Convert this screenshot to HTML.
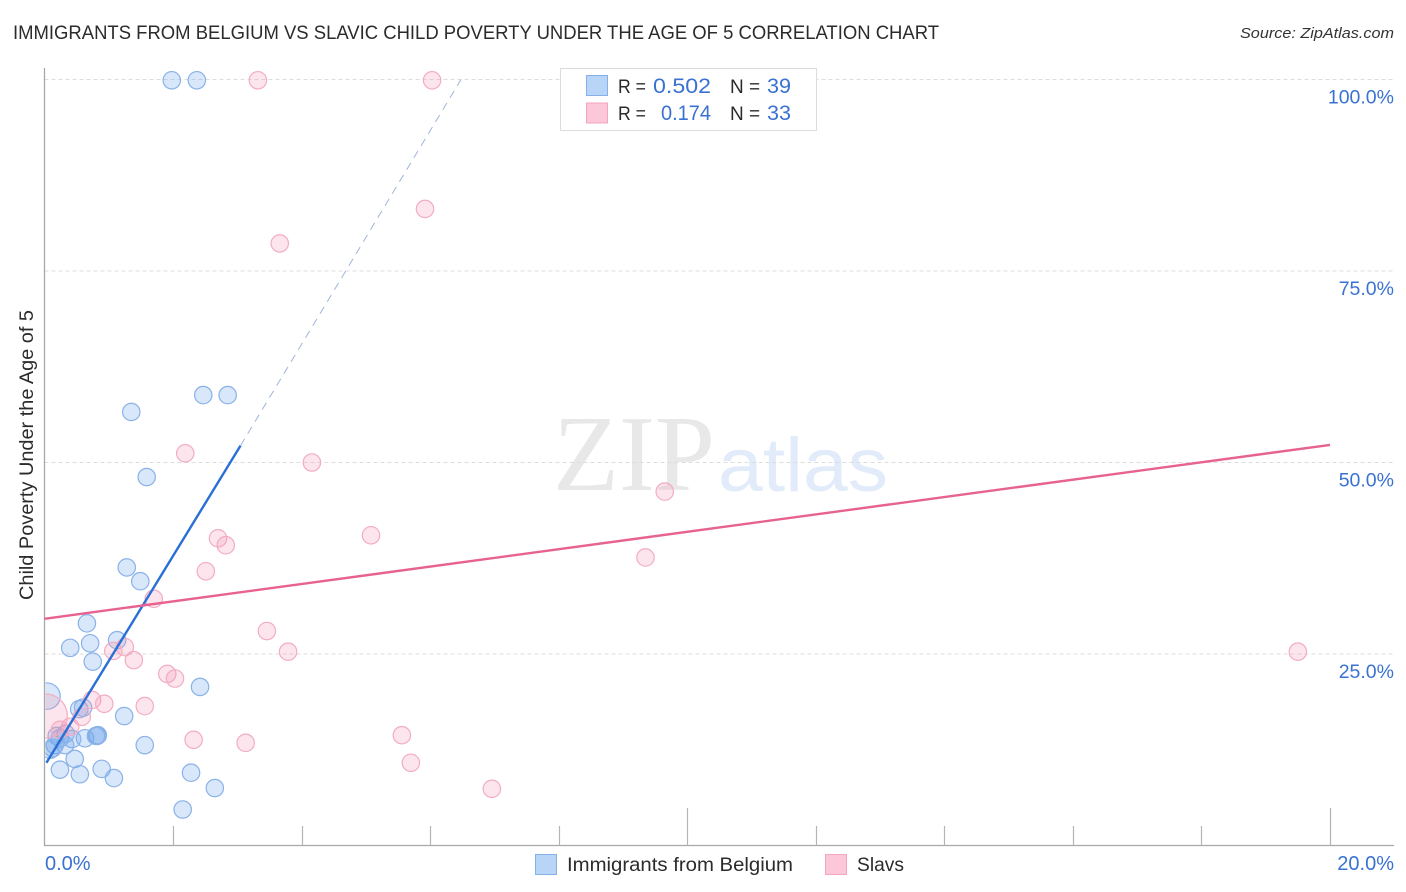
<!DOCTYPE html>
<html lang="en">
<head>
<meta charset="utf-8">
<title>Immigrants from Belgium vs Slavic Child Poverty Under the Age of 5 Correlation Chart</title>
<style>
html,body{margin:0;padding:0;background:#fff;width:1406px;height:892px;overflow:hidden}
svg{display:block}
text{font-family:"Liberation Sans",sans-serif}
</style>
</head>
<body>
<svg id="chart" xmlns="http://www.w3.org/2000/svg" width="1406" height="892" viewBox="0 0 1406 892">
  <defs>
    <clipPath id="plot-clip"><rect x="45.5" y="60" width="1349" height="785"/></clipPath>
  </defs>
  <text x="13" y="39" font-size="19" fill="#2b2b2b" textLength="926" lengthAdjust="spacingAndGlyphs">IMMIGRANTS FROM BELGIUM VS SLAVIC CHILD POVERTY UNDER THE AGE OF 5 CORRELATION CHART</text>
  <text x="1394" y="38" font-size="15" font-style="italic" fill="#333" text-anchor="end" textLength="154" lengthAdjust="spacingAndGlyphs">Source: ZipAtlas.com</text>

  <g>
    <text x="553" y="490" font-size="108" fill="#e8e8e8" style="font-family:'Liberation Serif',serif" textLength="162" lengthAdjust="spacingAndGlyphs">ZIP</text>
    <text x="718" y="491" font-size="76" fill="#e1ebfa" textLength="170" lengthAdjust="spacingAndGlyphs">atlas</text>
  </g>

  <g id="grid"></g>
  <g id="axes"></g>
  <g id="y-labels"></g>
  <g id="x-labels"></g>

  <text transform="translate(33 455) rotate(-90)" font-size="19" fill="#2b2b2b" text-anchor="middle" textLength="290" lengthAdjust="spacingAndGlyphs">Child Poverty Under the Age of 5</text>

  <g id="points" clip-path="url(#plot-clip)"></g>
  <g id="trends"></g>

  <g>
    <rect x="560.5" y="68.5" width="256" height="62" fill="#fff" stroke="#dcdcdc" stroke-width="1"/>
    <rect x="586.5" y="75.5" width="21" height="20" fill="#b8d4f6" stroke="#86b0e8"/>
    <rect x="586.5" y="103" width="21" height="20" fill="#fcc8d9" stroke="#f3a5bf"/>
    <text x="618" y="93" font-size="19" fill="#2b2b2b" textLength="28" lengthAdjust="spacingAndGlyphs">R =</text>
    <text x="653" y="93" font-size="21" fill="#3a72d2" textLength="58" lengthAdjust="spacingAndGlyphs">0.502</text>
    <text x="730" y="93" font-size="19" fill="#2b2b2b">N =</text>
    <text x="767" y="93" font-size="21" fill="#3a72d2" textLength="24" lengthAdjust="spacingAndGlyphs">39</text>
    <text x="618" y="120" font-size="19" fill="#2b2b2b" textLength="28" lengthAdjust="spacingAndGlyphs">R =</text>
    <text x="661" y="120" font-size="21" fill="#3a72d2" textLength="50" lengthAdjust="spacingAndGlyphs">0.174</text>
    <text x="730" y="120" font-size="19" fill="#2b2b2b">N =</text>
    <text x="767" y="120" font-size="21" fill="#3a72d2" textLength="24" lengthAdjust="spacingAndGlyphs">33</text>
  </g>

  <g>
    <rect x="535.5" y="854.5" width="21" height="20" fill="#b8d4f6" stroke="#86b0e8"/>
    <text x="567" y="871" font-size="19.5" fill="#2b2b2b" textLength="226" lengthAdjust="spacingAndGlyphs">Immigrants from Belgium</text>
    <rect x="825.5" y="854.5" width="21" height="20" fill="#fcc8d9" stroke="#f3a5bf"/>
    <text x="857" y="871" font-size="19.5" fill="#2b2b2b" textLength="47" lengthAdjust="spacingAndGlyphs">Slavs</text>
  </g>
</svg>

<script>
/* Chart data (percent values) */
const yTickValues = [25, 50, 75, 100];
const yTickLabels = ["25.0%", "50.0%", "75.0%", "100.0%"];
const xTickValues = [0, 2, 4, 6, 8, 10, 12, 14, 16, 18, 20];
const xMajorTickValues = [0, 10, 20];
const xEdgeLabels = ["0.0%", "20.0%"];
const xEdgeLabelValues = [0, 20];

const belgiumX = [1.98, 2.37, 1.35, 2.47, 2.85, 1.59, 1.28, 1.49, 0.66, 1.13, 0.71, 0.40, 0.75, 2.42, 0.04, 0.54, 0.60, 1.24, 1.56, 0.63, 0.43, 0.24, 0.33, 0.82, 0.83, 0.80, 0.32, 0.16, 0.13, 0.47, 0.24, 0.55, 0.89, 1.08, 2.28, 2.65, 2.15, 0.19, 0.09];
const belgiumY = [99.9, 99.9, 56.6, 58.8, 58.8, 48.1, 36.3, 34.5, 29.0, 26.8, 26.4, 25.8, 24.0, 20.7, 19.5, 17.8, 18.0, 16.9, 13.1, 14.0, 13.9, 14.0, 14.6, 14.3, 14.4, 14.3, 13.1, 13.1, 12.7, 11.3, 9.9, 9.3, 10.0, 8.8, 9.5, 7.5, 4.7, 14.3, 12.5];
const belgiumWeight = [1, 1, 1, 1, 1, 1, 1, 1, 1, 1, 1, 1, 1, 1, 2.3, 1, 1, 1, 1, 1, 1, 1, 1, 1, 1, 1, 1, 1, 1, 1, 1, 1, 1, 1, 1, 1, 1, 1, 1];

const slavsX = [3.32, 6.03, 5.92, 3.66, 2.19, 4.16, 5.08, 9.65, 9.35, 2.70, 2.82, 2.51, 1.70, 3.46, 3.79, 1.25, 1.07, 1.39, 1.91, 2.03, 19.5, 0.74, 0.93, 1.56, 0.58, 0.40, 2.32, 3.13, 5.56, 5.70, 6.96, 0.01, 0.24];
const slavsY = [99.9, 99.9, 83.1, 78.6, 51.2, 50.0, 40.5, 46.2, 37.6, 40.1, 39.2, 35.8, 32.2, 28.0, 25.3, 25.9, 25.4, 24.2, 22.4, 21.8, 25.3, 19.0, 18.5, 18.2, 16.8, 15.5, 13.8, 13.4, 14.4, 10.8, 7.4, 16.9, 15.1];
const slavsWeight = [1, 1, 1, 1, 1, 1, 1, 1, 1, 1, 1, 1, 1, 1, 1, 1, 1, 1, 1, 1, 1, 1, 1, 1, 1, 1, 1, 1, 1, 1, 1, 6.5, 1];

const belgiumTrendX = [0.03, 3.05, 6.48];
const belgiumTrendY = [10.8, 52.2, 100];
const slavsTrendX = [0, 20];
const slavsTrendY = [29.6, 52.3];

/* Axis functions */
const plotLeft = 44.5, plotRight = 1330, plotBottom = 845.5, pxPerY = 7.66, pointR = 8.7;
function xScale(v) { return plotLeft + (plotRight - plotLeft) * v / 20; }
function yScale(v) { return plotBottom - pxPerY * v; }

const NS = 'http://www.w3.org/2000/svg';
function make(tag, parentId, attrs) {
  const el = document.createElementNS(NS, tag);
  Object.keys(attrs).forEach(function (k) { el.setAttribute(k, attrs[k]); });
  document.getElementById(parentId).appendChild(el);
  return el;
}

/* Gridlines and y labels */
yTickValues.forEach(function (v, i) {
  const y = yScale(v);
  const line = make('line', 'grid', { x1: plotLeft, x2: 1394, y1: y, y2: y, stroke: '#dddddd', 'stroke-width': 1, 'stroke-dasharray': '4 3' });
  
  
  const label = make('text', 'y-labels', { x: 1394, y: y + 24, 'font-size': 19.5, fill: '#3a72d2', 'text-anchor': 'end' });
  
  
  label.textContent = yTickLabels[i];
});

/* Axes */
const yAxis = make('line', 'axes', { x1: 44.5, x2: 44.5, y1: 68, y2: 846, stroke: '#a8a8a8', 'stroke-width': 1.3 });


const xAxis = make('line', 'axes', { x1: 44, x2: 1394, y1: 845.5, y2: 845.5, stroke: '#a8a8a8', 'stroke-width': 1.3 });



xTickValues.forEach(function (v) {
  if (v === 0) return;
  const x = Math.round(xScale(v)) + 0.5;
  const top = xMajorTickValues.indexOf(v) >= 0 ? 808 : 826;
  const tick = make('line', 'axes', { x1: x, x2: x, y1: top, y2: 845.5, stroke: '#b4b4b4', 'stroke-width': 1.2 });
  
  
});

xEdgeLabels.forEach(function (t, i) {
  const v = xEdgeLabelValues[i];
  const label = make('text', 'x-labels', {
    x: v === 0 ? 45 : 1394,
    y: 870,
    'font-size': 20,
    fill: '#3a72d2',
    'text-anchor': v === 0 ? 'start' : 'end'
  });
  
  
  label.textContent = t;
});

/* Points */
belgiumX.forEach(function (v, i) {
  const c = make('circle', 'points', {
    cx: xScale(v), cy: yScale(belgiumY[i]), r: pointR * Math.sqrt(belgiumWeight[i]),
    fill: 'rgba(110,165,235,0.27)', stroke: '#8ab2e8', 'stroke-width': 1.2
  });
  
  
});
slavsX.forEach(function (v, i) {
  const c = make('circle', 'points', {
    cx: xScale(v), cy: yScale(slavsY[i]), r: pointR * Math.sqrt(slavsWeight[i]),
    fill: 'rgba(245,150,180,0.25)', stroke: '#f2adc3', 'stroke-width': 1.2
  });
  
  
});

/* Trend lines */
const bSolid = make('line', 'trends', {
  x1: xScale(belgiumTrendX[0]), y1: yScale(belgiumTrendY[0]),
  x2: xScale(belgiumTrendX[1]), y2: yScale(belgiumTrendY[1]),
  stroke: '#2a6fd6', 'stroke-width': 2.4
});


const bDash = make('line', 'trends', {
  x1: xScale(belgiumTrendX[1]), y1: yScale(belgiumTrendY[1]),
  x2: xScale(belgiumTrendX[2]), y2: yScale(belgiumTrendY[2]),
  stroke: '#9db6dc', 'stroke-width': 1, 'stroke-dasharray': '8 6'
});


const sLine = make('line', 'trends', {
  x1: xScale(slavsTrendX[0]), y1: yScale(slavsTrendY[0]),
  x2: xScale(slavsTrendX[1]), y2: yScale(slavsTrendY[1]),
  stroke: '#e8628f', 'stroke-width': 2.4
});


</script>
</body>
</html>
